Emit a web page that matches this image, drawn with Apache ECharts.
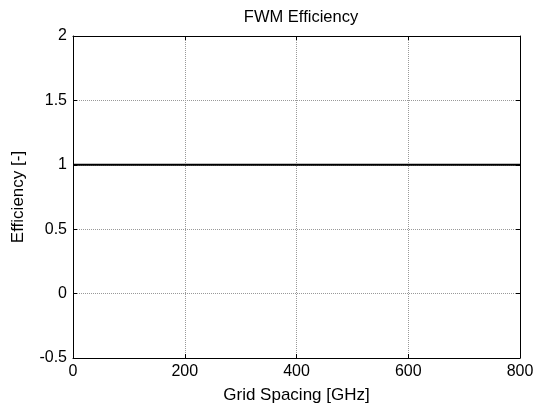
<!DOCTYPE html>
<html>
<head>
<meta charset="utf-8">
<script src="https://cdn.jsdelivr.net/npm/echarts@6/dist/echarts.min.js"></script>
<style>html,body{margin:0;padding:0;background:#fff;}#c{width:537px;height:410px;}</style>
</head>
<body>
<div id="c"></div>
<script>
var gridSpacing = [0, 100, 200, 300, 400, 500, 600, 700, 800];
var efficiency = [1, 1, 1, 1, 1, 1, 1, 1, 1];
var xTicks = [0, 200, 400, 600, 800];
var yTicks = [-0.5, 0, 0.5, 1, 1.5, 2];

var font = 'Liberation Sans, Arial, sans-serif';
var chart = echarts.init(document.getElementById('c'));
var baseAxis = {
  axisLine: {show: true, onZero: false, lineStyle: {color: '#000', width: 1}},
  axisTick: {show: true, inside: true, length: 4, lineStyle: {color: '#000'}}
};
chart.setOption({
  animation: false,
  title: {text: 'FWM Efficiency', left: 296, top: 4, textAlign: 'center',
    textStyle: {fontFamily: font, fontSize: 16.5, fontWeight: 'normal', color: '#000'}},
  grid: {left: 73, right: 17, top: 36, bottom: 52, containLabel: false},
  xAxis: [
    Object.assign({}, baseAxis, {type: 'value', min: 0, max: 800, interval: 200,
      name: 'Grid Spacing [GHz]', nameLocation: 'middle', nameGap: 29,
      nameTextStyle: {fontFamily: font, fontSize: 17, color: '#000'},
      axisLabel: {fontFamily: font, fontSize: 16, color: '#000', margin: 6},
      splitLine: {show: true, lineStyle: {color: '#999', type: [1, 1], width: 1}}}),
    Object.assign({}, baseAxis, {type: 'value', position: 'top', min: 0, max: 800, interval: 200,
      axisLabel: {show: false}, splitLine: {show: false}})
  ],
  yAxis: [
    Object.assign({}, baseAxis, {type: 'value', min: -0.5, max: 2, interval: 0.5,
      name: 'Efficiency [-]', nameLocation: 'middle', nameGap: 46,
      nameTextStyle: {fontFamily: font, fontSize: 17, color: '#000'},
      axisLabel: {fontFamily: font, fontSize: 16, color: '#000', margin: 6},
      splitLine: {show: true, lineStyle: {color: '#999', type: [1, 1], width: 1}}}),
    Object.assign({}, baseAxis, {type: 'value', position: 'right', min: -0.5, max: 2, interval: 0.5,
      axisLabel: {show: false}, splitLine: {show: false}})
  ],
  series: [{
    type: 'line',
    data: gridSpacing.map(function (x, i) { return [x, efficiency[i]]; }),
    showSymbol: false,
    lineStyle: {color: '#000', width: 2},
    z: 5
  }]
});
</script>
</body>
</html>
